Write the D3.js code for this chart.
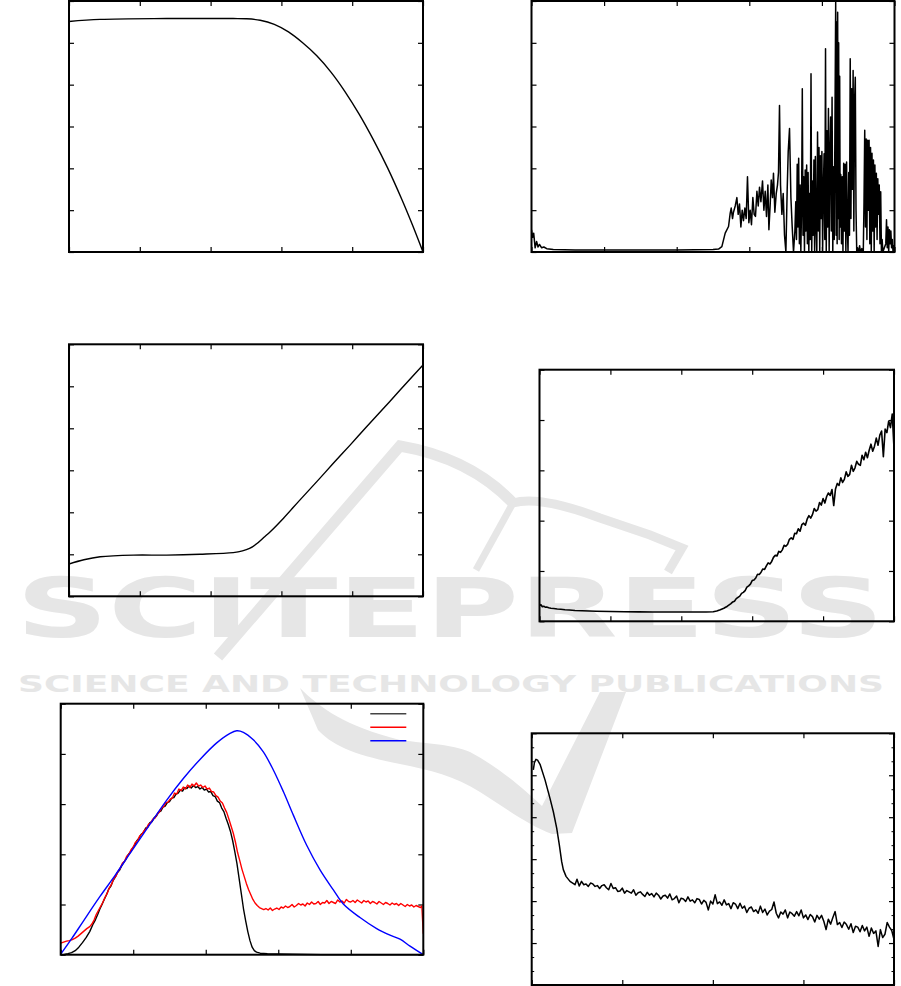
<!DOCTYPE html>
<html><head><meta charset="utf-8">
<script src="https://cdn.jsdelivr.net/npm/d3@7/dist/d3.min.js"></script>
<style>body{margin:0;background:#fff}svg{display:block}</style>
</head><body>
<svg id="c" width="901" height="986"></svg>
<script>
// ---------------- DATA ----------------
const p1Curve = [[0,5.51],[0.44,5.56],[1.38,5.58],[2.32,5.58],[2.5,5.575],[2.7,5.54],[2.9,5.44],[3.1,5.26],[3.3,5.00],[3.5,4.69],[3.7,4.30],[3.9,3.83],[4.1,3.29],[4.3,2.68],[4.5,2.01],[4.7,1.26],[4.85,0.65],[5.0,0]];

const p3Curve = [[0,0.77],[0.21,0.87],[0.44,0.94],[0.91,0.98],[1.38,0.98],[1.85,1.0],[2.32,1.04],[2.45,1.08],[2.55,1.14],[2.65,1.25],[2.75,1.40],[2.85,1.55],[3.03,1.86],[3.26,2.29],[3.5,2.73],[3.73,3.16],[3.97,3.60],[4.2,4.03],[4.44,4.47],[4.67,4.90],[5.0,5.51]];

const p2Signal = [[0,0.53],[1.5,0.35],[3,0.45],[5,0.1],[7,0.25],[9,0.12],[11,0.18],[14,0.1],[17,0.12],[21,0.08],[30,0.06],[60,0.05],[120,0.05],[200,0.05],[250,0.06],
[257.6,0.07],[262.2,0.13],[266.8,0.45],[271.4,0.61],[273.7,0.93],[275.1,1.05],[276.9,0.8],[278.2,0.95],[280.6,1.1],[282.9,1.3],[284.7,0.9],[286.5,1.15],[288.4,0.6],[290.2,1.0],[292.0,0.75],[293.9,1.05],[295.7,0.8],[297.5,1.8],[299.4,0.7],[301.2,1.0],[303.0,0.65],[304.9,1.3],[306.7,0.9],[308.5,0.85],[310.5,1.45],[312.3,1.1],[314.1,1.55],[316.0,1.2],[318.2,1.7],[320.1,1.0],[321.9,1.45],[323.7,0.85],[325.6,1.6],[327.0,0.53],[328.8,1.15],[330.2,1.72],[332.0,1.3],[333.3,1.88],[335.2,0.95],[337.1,1.4],[338.8,1.6],[340.2,1.9],[341.6,3.5],[343.0,1.6],[344.9,0.9],[346.7,1.4],[348.5,0.4],[350.4,0.0],[352.2,1.5],[353.6,2.4],[355.4,2.95],[357.3,1.3],[359.1,0.6],[360.9,0.0],[362.8,0.5],
[364,1.2],[365,0.3],[366,2.1],[367,0.6],[368,2.24],[369,0.2],[370,1.6],[371,0.0],[372,1.1],[373,3.9],[374,0.4],[375,1.8],[376,0.0],[377,1.96],[378,0.5],[379,2.08],[380,0.2],[381,1.9],[382,0.0],[383,1.4],[384,0.3],[385,4.26],[386,0.0],[387,1.7],[388,0.4],[389,2.2],[390,0.0],[391,2.28],[392,0.6],[393,0.0],[394,2.87],[395,0.5],[396,2.5],[397,0.0],[398,2.3],[399,0.8],[400,2.4],[401,0.0],[402,1.5],[403,2.35],[404,0.3],[405,4.86],[406,0.0],[407,2.9],[408,0.6],[409,3.43],[410,0.0],[411,2.3],[412,3.23],[413,0.5],[414,3.7],[415,0.0],[416,2.04],[417,0.3],[418,3.1],[419,5.97],[419.6,0.4],[420.3,5.5],[421,0.2],[421.7,5.73],[422.4,0.8],[423.1,5.0],[423.8,0.3],[424.5,4.2],[425.2,0.6],[426,1.85],[427,0.2],[428,1.8],[429,0.0],[430,2.12],[431,0.5],[432,2.1],[433,0.0],[434,2.15],[435,0.6],[436,0.0],[437,1.9],[438,0.4],[439,4.62],[440,0.8],[441,3.9],[442,1.5],[443,4.34],[444,0.5],[445,3.6],[446,4.18],[447,1.0],[448,0.0],[449,0.1],[450,0.0],[451,0.05],[452,0.15],[453,0.0],[455,0.08],[457,0.0],[458,1.2],[459,2.91],[460,0.6],[461,2.7],[462,0.3],[463,2.67],[464,1.0],[465,2.67],[466,0.2],[467,2.5],[468,0.0],[469,2.36],[470,0.5],[471,2.2],[472,0.0],[473,2.08],[474,0.6],[475,1.88],[476,0.3],[477,1.75],[478,0.9],[479,1.6],[480,0.2],[481,1.44],[482,0.0],[483,0.3],[484,0.0],[486,0.1],[488,0.2],[489,0.77],[490,0.1],[491,0.6],[492,0.0],[493,0.53],[494,0.2],[495,0.5],[496,0.1],[497,0.3],[498,0.0],[499,0.15],[500,0.1]];

const p4Signal = [[0,0.31],[2,0.33],[4,0.29],[6,0.30],[8,0.28],[10,0.285],[13,0.27],[16,0.26],[20,0.255],[25,0.245],[30,0.24],[36,0.23],[42,0.225],[50,0.215],[60,0.21],[70,0.205],[80,0.2],[100,0.195],[120,0.19],[140,0.188],[160,0.186],[180,0.185],[200,0.185],[220,0.185],[235,0.186],[245,0.19],[250,0.205],[255,0.23],[260,0.26],[265,0.3],[270,0.35],
[272.5,0.385],[275,0.40],[277.5,0.45],[280,0.475],[282.5,0.50],[285,0.555],[287.5,0.575],[290,0.61],[292.5,0.68],[295,0.705],[297.5,0.74],[300,0.81],[302.5,0.82],[305,0.86],[307.5,0.935],[310,0.93],[312.5,0.975],[315,1.04],[317.5,1.03],[320,1.10],[322.5,1.16],[325,1.14],[327.5,1.19],[330,1.27],[332.5,1.31],[335,1.30],[337.5,1.39],[340,1.37],[342.5,1.42],[345,1.51],[347.5,1.49],[350,1.53],[352.5,1.63],[355,1.66],[357.5,1.63],[360,1.75],[362.5,1.74],[365,1.84],[367.5,1.79],[370,1.92],[372.5,1.95],[375,1.91],[377.5,2.03],[380,2.10],[382.5,2.05],[385,2.12],[387.5,2.24],[390,2.19],[392.5,2.22],[395,2.36],[397.5,2.31],[400,2.44],[402.5,2.35],[405,2.48],[407.5,2.55],[410,2.50],[412.5,2.62],[415,2.30],[417.5,2.63],[420,2.74],[422.5,2.70],[425,2.85],[427.5,2.76],[430,2.82],[432.5,2.97],[435,2.88],[437.5,2.92],[440,3.10],[442.5,2.98],[445,3.05],[447.5,3.18],[450,3.12],[452.5,3.10],[455,3.30],[457.5,3.21],[460,3.36],[462.5,3.25],[465,3.40],[467.5,3.52],[470,3.38],[472.5,3.48],[475,3.64],[477.5,3.50],[480,3.70],[482.5,3.78],[485,3.27],[487.5,3.82],[490,3.75],[492.5,3.98],[495,3.85],[497.5,4.12],[500,3.44]];

const p5Black = [[0,0.0],[5,0.005],[10,0.02],[15,0.04],[20,0.08],[25,0.15],[30,0.24],[35,0.34],[40,0.46],[45,0.62],[48,0.70],[51,0.80],[54,0.91],[57,1.0],[60,1.10],[63,1.19],[66,1.30],[69,1.36],[72,1.47],[75,1.54],[78,1.63],[81,1.68],[84,1.77],[87,1.84],[90,1.90],[93,1.99],[96,2.04],[99,2.12],[102,2.18],[105,2.27],[108,2.32],[111,2.40],[114,2.43],[117,2.52],[120,2.54],[123,2.63],[126,2.65],[129,2.73],[132,2.76],[135,2.84],[138,2.86],[141,2.94],[144,2.96],[147,3.03],[150,3.05],[153,3.12],[156,3.13],[159,3.20],[162,3.22],[165,3.28],[168,3.26],[171,3.33],[174,3.31],[177,3.36],[180,3.32],[183,3.37],[186,3.33],[189,3.35],[192,3.30],[195,3.33],[198,3.28],[201,3.30],[204,3.24],[207,3.25],[210,3.17],[213,3.15],[216,3.06],[219,3.03],[222,2.92],[225,2.85],[228,2.72],[231,2.60],[234,2.46],[237,2.28],[240,2.06],[243,1.82],[246,1.52],[249,1.22],[252,0.92],[255,0.68],[258,0.46],[261,0.28],[264,0.15],[267,0.08],[270,0.05],[275,0.03],[285,0.02],[300,0.015],[320,0.008],[340,0.003],[360,0],[500,0]];

const p5Red = [[0,0.23],[4,0.25],[8,0.27],[12,0.28],[16,0.30],[20,0.33],[24,0.37],[28,0.42],[32,0.47],[36,0.52],[40,0.56],[43,0.61],[46,0.69],[49,0.80],[52,0.88],[55,0.96],[58,1.04],[61,1.14],[64,1.22],[67,1.33],[70,1.40],[73,1.51],[76,1.56],[79,1.66],[82,1.72],[85,1.82],[88,1.86],[91,1.96],[94,2.00],[97,2.09],[100,2.14],[103,2.24],[106,2.27],[109,2.37],[112,2.40],[115,2.47],[118,2.51],[121,2.60],[124,2.62],[127,2.70],[130,2.72],[133,2.80],[136,2.84],[139,2.92],[142,2.95],[145,3.03],[148,3.04],[151,3.10],[154,3.12],[157,3.22],[160,3.20],[163,3.30],[166,3.27],[169,3.34],[172,3.30],[175,3.38],[178,3.33],[181,3.40],[184,3.36],[187,3.42],[190,3.36],[193,3.38],[196,3.33],[199,3.36],[202,3.30],[205,3.32],[208,3.25],[211,3.24],[214,3.17],[217,3.14],[220,3.06],[223,3.02],[226,2.92],[229,2.83],[232,2.70],[235,2.56],[238,2.42],[241,2.24],[244,2.03],[247,1.87],[250,1.70],[253,1.56],[256,1.42],[259,1.30],[262,1.20],[265,1.10],[268,1.03],[271,0.98],[274,0.94],[277,0.92],
[280,0.90],[283,0.92],[286,0.89],[289,0.93],[292,0.88],[295,0.91],[298,0.93],[301,0.90],[304,0.95],[307,0.93],[310,0.97],[313,0.94],[316,0.96],[319,1.00],[322,0.95],[325,0.98],[328,1.02],[331,0.99],[334,1.01],[337,0.97],[340,1.03],[343,1.00],[346,1.05],[349,1.01],[352,1.02],[355,1.06],[358,1.00],[361,1.04],[364,1.03],[367,1.08],[370,1.02],[373,1.06],[376,1.04],[379,1.02],[382,1.09],[385,1.05],[388,1.07],[391,1.03],[394,1.10],[397,1.06],[400,1.05],[403,1.08],[406,1.04],[409,1.09],[412,1.06],[415,1.03],[418,1.08],[421,1.05],[424,1.07],[427,1.02],[430,1.06],[433,1.04],[436,1.01],[439,1.06],[442,1.03],[445,1.00],[448,1.04],[451,1.02],[454,0.99],[457,1.03],[460,1.00],[463,1.02],[466,0.98],[469,1.02],[472,0.99],[475,0.96],[478,1.00],[481,0.97],[484,0.99],[487,0.95],[490,0.98],[493,0.96],[496,0.94],[498,0.97],[500,0.42]];

const p5Blue = [[0,0.01],[15.6,0.33],[31.3,0.67],[54.2,1.16],[75,1.58],[95.6,2.02],[123.2,2.60],[146.2,3.08],[169.1,3.51],[192.1,3.89],[215.1,4.22],[233.5,4.41],[242.7,4.46],[251.9,4.43],[265.6,4.28],[279.4,4.04],[293.2,3.68],[307,3.25],[320.8,2.78],[339.2,2.18],[357.6,1.69],[376,1.29],[389.7,1.01],[412.7,0.74],[435.7,0.52],[454.1,0.39],[467.9,0.31],[481.7,0.17],[500,0]];

const p6Signal = [[1.8,5.13],[3,5.30],[4.7,5.38],[6.5,5.36],[9.2,5.26],[14.7,4.89],[20.2,4.45],[23.9,4.13],[27.6,3.74],[30.5,3.34],[33.1,2.94],[34.9,2.75],[37.9,2.59],[42.3,2.47],[47.8,2.39],
[50,2.52],[52.5,2.36],[55,2.47],[57.5,2.39],[60,2.41],[62.5,2.35],[65,2.43],[67.5,2.41],[70,2.35],[72.5,2.37],[75,2.30],[77.5,2.37],[80,2.39],[82.5,2.32],[85,2.27],[87.5,2.42],[90,2.30],[92.5,2.32],[95,2.23],[97.5,2.24],[100,2.31],[102.5,2.19],[105,2.25],[107.5,2.22],[110,2.19],[112.5,2.27],[115,2.14],[117.5,2.20],[120,2.22],[122.5,2.16],[125,2.11],[127.5,2.21],[130,2.14],[132.5,2.18],[135,2.10],[137.5,2.19],[140,2.14],[142.5,2.05],[145,2.12],[147.5,2.14],[150,2.07],[152.5,2.17],[155,2.03],[157.5,2.06],[160,2.12],[162.5,1.96],[165,2.07],[167.5,2.05],[170,1.99],[172.5,2.10],[175,2.00],[177.5,2.03],[180,1.96],[182.5,2.06],[185,2.04],[187.5,1.93],[190,2.02],[192.5,1.97],[195,1.79],[197.5,2.00],[200,1.93],[202.5,2.15],[205,1.94],[207.5,1.98],[210,1.90],[212.5,2.03],[215,1.91],[217.5,1.94],[220,1.82],[222.5,1.96],[225,1.93],[227.5,1.82],[230,1.95],[232.5,1.83],[235,1.88],[237.5,1.73],[240,1.83],[242.5,1.86],[245,1.75],[247.5,1.79],[250,1.71],[252.5,1.88],[255,1.73],[257.5,1.81],[260,1.67],[262.5,1.76],[265,1.80],[267.5,1.98],[270,1.71],[272.5,1.60],[275,1.74],[277.5,1.69],[280,1.79],[282.5,1.60],[285,1.74],[287.5,1.70],[290,1.64],[292.5,1.75],[295,1.65],[297.5,1.79],[300,1.60],[302.5,1.67],[305,1.56],[307.5,1.68],[310,1.63],[312.5,1.50],[315,1.66],[317.5,1.57],[320,1.66],[322.5,1.52],[325,1.32],[327.5,1.57],[330,1.45],[332.5,1.61],[335,1.75],[337.5,1.44],[340,1.49],[342.5,1.37],[345,1.50],[347.5,1.44],[350,1.33],[352.5,1.46],[355,1.25],[357.5,1.40],[360,1.38],[362.5,1.27],[365,1.42],[367.5,1.29],[370,1.38],[372.5,1.16],[375,1.36],[377.5,1.23],[380,1.29],[382.5,0.92],[385,1.32],[387.5,1.13],[390,1.21],[392.5,1.49],[395,1.38],[397.5,1.30],[400,1.08]];

const ticks5 = [0,1,2,3,4,5];
const ticks6 = [0,1,2,3,4,5,6];
const ticks500 = [0,100,200,300,400,500];
const ticks400 = [0,100,200,300,400];
const minor6 = [1/3,2/3,4/3,5/3,7/3,8/3,10/3,11/3,13/3,14/3,16/3,17/3];
const watermarkTitle = "SCITEPRESS";
const watermarkSub = "SCIENCE AND TECHNOLOGY PUBLICATIONS";
const legendColors = ["#444444","#ff0000","#0000ff"];

// ---------------- DRAW ----------------
const svg = d3.select('#c');
const wmColor = '#e6e6e6';
const wm = svg.append('g').attr('fill',wmColor).attr('stroke','none');
wm.append('path').attr('fill','none').attr('stroke',wmColor).attr('stroke-width',11)
  .attr('d','M218,657 L400,446 Q470,458 513,503');
wm.append('path').attr('fill','none').attr('stroke',wmColor).attr('stroke-width',9)
  .attr('d','M513,503 C530,498 560,503 600,518 L650,535 L682,548 L668,572');
wm.append('path').attr('fill','none').attr('stroke',wmColor).attr('stroke-width',7)
  .attr('d','M513,503 L476,570');
wm.append('path')
  .attr('d','M300,688 C320,708 345,726 400,740 C430,744 450,744 470,752 C500,768 525,790 542,806 L600,692 L626,692 L572,833 L552,834 C530,826 505,808 480,792 C455,776 430,770 400,764 C360,756 335,748 318,730 Z');
wm.append('text').text(watermarkTitle)
  .attr('x',16).attr('y',637).attr('font-family','DejaVu Sans').attr('font-weight','bold')
  .attr('font-size',82).attr('textLength',868).attr('lengthAdjust','spacingAndGlyphs');
wm.append('text').text(watermarkSub)
  .attr('x',18).attr('y',692).attr('font-family','DejaVu Sans').attr('font-weight','bold')
  .attr('font-size',23).attr('textLength',866).attr('lengthAdjust','spacingAndGlyphs');

function panel(cfg){
  const x = d3.scaleLinear().domain(cfg.xDomain).range([cfg.left, cfg.right]);
  const y = d3.scaleLinear().domain(cfg.yDomain).range([cfg.bottom, cfg.top]);
  const g = svg.append('g');
  const tl = 5;
  const axes = [
    [d3.axisBottom(x).tickValues(cfg.xTicks), `translate(0,${cfg.bottom})`],
    [d3.axisTop(x).tickValues(cfg.xTicks), `translate(0,${cfg.top})`],
    [d3.axisLeft(y).tickValues(cfg.yTicks), `translate(${cfg.left},0)`],
    [d3.axisRight(y).tickValues(cfg.yTicks), `translate(${cfg.right},0)`]
  ];
  axes.forEach(([ax,tr])=>{
    const a = g.append('g').attr('transform',tr)
      .call(ax.tickSize(-tl).tickSizeOuter(0).tickFormat(''));
    a.select('.domain').remove();
    a.selectAll('text').remove();
    a.selectAll('line').attr('stroke','#000').attr('stroke-width',1.2);
  });
  if(cfg.yMinor){
    [d3.axisLeft(y), d3.axisRight(y)].forEach((ax,i)=>{
      const a = g.append('g').attr('transform',`translate(${i?cfg.right:cfg.left},0)`)
        .call(ax.tickValues(cfg.yMinor).tickSize(-2.5).tickSizeOuter(0).tickFormat(''));
      a.select('.domain').remove();
      a.selectAll('text').remove();
      a.selectAll('line').attr('stroke','#000').attr('stroke-width',1);
    });
  }
  const clipId = 'clip'+cfg.id;
  svg.append('clipPath').attr('id',clipId).append('rect')
    .attr('x',cfg.left).attr('y',cfg.top-1).attr('width',cfg.right-cfg.left).attr('height',cfg.bottom-cfg.top+2);
  const lg = g.append('g').attr('clip-path',`url(#${clipId})`);
  cfg.series.forEach(s=>{
    const line = d3.line().x(d=>x(d[0])).y(d=>y(d[1]))
      .curve(s.smooth?d3.curveCatmullRom.alpha(0.5):d3.curveLinear);
    lg.append('path').datum(s.data).attr('fill','none').attr('stroke',s.color)
      .attr('stroke-width',s.width||1.4).attr('stroke-linejoin','round').attr('d',line);
  });
  if(cfg.legend){
    cfg.legend.forEach((c,i)=>{
      g.append('line').attr('x1',cfg.right-53).attr('x2',cfg.right-17)
        .attr('y1',cfg.top+10+i*13.5).attr('y2',cfg.top+10+i*13.5)
        .attr('stroke',c).attr('stroke-width',1.6);
    });
  }
  g.append('rect').attr('x',cfg.left).attr('y',cfg.top)
    .attr('width',cfg.right-cfg.left).attr('height',cfg.bottom-cfg.top)
    .attr('fill','none').attr('stroke','#000').attr('stroke-width',2);
}

panel({id:1,left:69,right:423,top:1,bottom:252,xDomain:[0,5],yDomain:[0,6],xTicks:ticks5,yTicks:ticks6,
  series:[{data:p1Curve,color:'#000',smooth:true}]});
panel({id:2,left:531.5,right:894.5,top:1,bottom:252,xDomain:[0,500],yDomain:[0,6],xTicks:ticks500,yTicks:ticks6,
  series:[{data:p2Signal,color:'#000',width:1.5}]});
panel({id:3,left:69,right:423,top:344.3,bottom:596.3,xDomain:[0,5],yDomain:[0,6],xTicks:ticks5,yTicks:ticks6,
  series:[{data:p3Curve,color:'#000',smooth:true}]});
panel({id:4,left:539.5,right:894,top:369.7,bottom:621.3,xDomain:[0,500],yDomain:[0,5],xTicks:ticks500,yTicks:ticks5,
  series:[{data:p4Signal,color:'#000',width:1.6}]});
panel({id:5,left:60.7,right:423.3,top:703.7,bottom:954.7,xDomain:[0,500],yDomain:[0,5],xTicks:ticks500,yTicks:ticks5,
  series:[{data:p5Black,color:'#000'},{data:p5Red,color:'#ff0000'},{data:p5Blue,color:'#0000ff',smooth:true}],
  legend:legendColors});
panel({id:6,left:531.7,right:894,top:733.3,bottom:985,xDomain:[0,400],yDomain:[0,6],xTicks:ticks400,yTicks:ticks6,yMinor:minor6,
  series:[{data:p6Signal,color:'#000',width:1.5}]});
</script>
</body></html>
